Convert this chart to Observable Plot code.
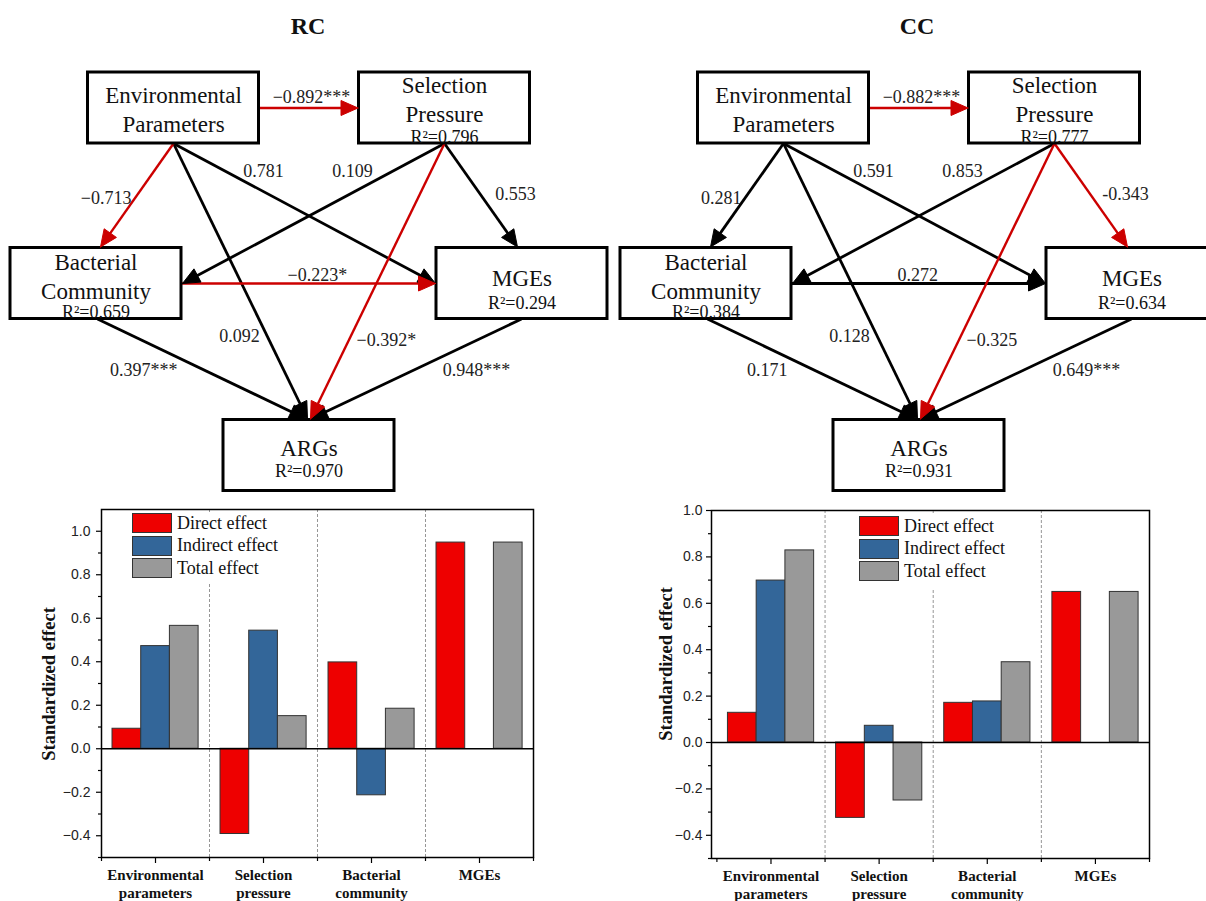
<!DOCTYPE html>
<html><head><meta charset="utf-8">
<script src="https://cdn.jsdelivr.net/npm/d3@7"></script>
<script src="https://cdn.jsdelivr.net/npm/@observablehq/plot@0.6"></script>
<style>
html,body{margin:0;padding:0;background:#fff}
body{width:1206px;height:901px;overflow:hidden;position:relative;font-family:"Liberation Serif","Times New Roman",serif}
.abs{position:absolute}
.title{font-weight:bold;font-size:24px;line-height:24px;text-align:center;width:200px;color:#111}
.legend{background:#fff;font-size:18px;color:#111;white-space:nowrap}
.legend .row{display:flex;align-items:center;height:22.5px}
.legend .sw{width:38px;height:18px;border:1.5px solid #333;margin-right:5px;box-sizing:content-box;flex:none}
.ytitle{font-weight:bold;font-size:18.5px;line-height:20px;width:200px;text-align:center;color:#111;white-space:nowrap}
</style></head>
<body>
<script>
// ---------------- data ----------------
const panels = ["RC", "CC"];
const nodeIds = ["env", "sp", "bc", "mge", "arg"];
const nodeNames = ["Environmental\nParameters", "Selection\nPressure", "Bacterial\nCommunity", "MGEs", "ARGs"];
const r2RC = [null, 0.796, 0.659, 0.294, 0.970];
const r2CC = [null, 0.777, 0.384, 0.634, 0.931];
const edgeFrom = ["env", "env", "env", "env", "sp", "sp", "sp", "bc", "bc", "mge"];
const edgeTo   = ["sp", "bc", "arg", "mge", "bc", "arg", "mge", "mge", "arg", "arg"];
const pathRC = ["−0.892***", "−0.713", "0.092", "0.781", "0.109", "−0.392*", "0.553", "−0.223*", "0.397***", "0.948***"];
const pathCC = ["−0.882***", "0.281", "0.128", "0.591", "0.853", "−0.325", "-0.343", "0.272", "0.171", "0.649***"];

const predictors = ["Environmental\nparameters", "Selection\npressure", "Bacterial\ncommunity", "MGEs"];
const effectTypes = ["Direct effect", "Indirect effect", "Total effect"];
const directRC   = [0.092, -0.392, 0.397, 0.948];
const indirectRC = [0.472, 0.543, -0.214, null];
const totalRC    = [0.565, 0.150, 0.184, 0.948];
const directCC   = [0.128, -0.325, 0.171, 0.649];
const indirectCC = [0.698, 0.072, 0.177, null];
const totalCC    = [0.828, -0.250, 0.346, 0.649];
const yTicks = [-0.4, -0.2, 0.0, 0.2, 0.4, 0.6, 0.8, 1.0];
const yMinorTicks = [-0.5, -0.3, -0.1, 0.1, 0.3, 0.5, 0.7, 0.9];
const yTitle = "Standardized effect";

// ---------------- layout (diagram, px in panel coordinates) ----------------
const DW = 606, DH = 440, DTOP = 60;
const boxW = 171, boxH = 71;
const layoutNodes = [
  {cx: 173,   cy: 107.5, ty: 107.5, ry: null},
  {cx: 444,   cy: 107.5, ty: 98,    ry: 137},
  {cx: 95.5,  cy: 283,   ty: 274.5, ry: 312},
  {cx: 521.5, cy: 283,   ty: 276,   ry: 303},
  {cx: 308.5, cy: 455,   ty: 446,   ry: 471}
];
const layoutEdges = [
  [258.5, 107.5, 357.5, 107.5],
  [173, 143, 100, 246.5],
  [173, 143, 307, 418.5],
  [173, 143, 435, 283],
  [444, 143, 182, 283],
  [444, 143, 310, 418.5],
  [444, 143, 517, 246.5],
  [181, 283, 435, 283],
  [97, 318.5, 306, 418.5],
  [521, 318.5, 310, 418.5]
];
const layoutLabels = [
  [311, 97, "middle"], [131, 198, "end"], [239, 336, "middle"], [263, 171, "middle"],
  [352, 171, "middle"], [356, 340, "start"], [515, 194, "middle"], [287, 275, "start"],
  [177, 370, "end"], [476, 370, "middle"]
];

const SERIF = "Liberation Serif, Times New Roman, serif";
const SANS = "Liberation Sans, Arial, sans-serif";
const RED_ARROW = "#cc0000";
const barColors = ["#ee0000", "#336699", "#999999"];

function diagram(r2, paths) {
  const nodes = nodeIds.map((id, i) => ({id, name: nodeNames[i], r2: r2[i], ...layoutNodes[i]}));
  const edges = edgeFrom.map((f, i) => {
    const [x1, y1, x2, y2] = layoutEdges[i];
    const label = paths[i];
    const neg = /^[−-]/.test(label);
    const dx = x2 - x1, dy = y2 - y1, len = Math.hypot(dx, dy);
    const ux = dx / len, uy = dy / len;
    return {i, from: f, to: edgeTo[i], label, neg, color: neg ? RED_ARROW : "#000",
      x1, y1, x2, y2, ux, uy,
      ex: x2 - ux * 10, ey: y2 - uy * 10,
      lx: layoutLabels[i][0], ly: layoutLabels[i][1], anchor: layoutLabels[i][2]};
  });
  const L = 17, HW = 7.5;
  const heads = [];
  edges.forEach(e => {
    const bx = e.x2 - e.ux * L, by = e.y2 - e.uy * L, nx = -e.uy, ny = e.ux;
    [[e.x2, e.y2], [bx + nx * HW, by + ny * HW], [bx - nx * HW, by - ny * HW], [e.x2, e.y2]]
      .forEach(([x, y]) => heads.push({id: e.i, x, y, color: e.color}));
  });
  const textMarks = ["middle", "start", "end"].map(a =>
    Plot.text(edges.filter(e => e.anchor === a), {x: "lx", y: "ly", text: "label", textAnchor: a,
      fontSize: 18, fontFamily: SERIF, fill: "#222"}));
  return Plot.plot({
    width: DW, height: DH, margin: 0,
    x: {domain: [0, DW], range: [0, DW], axis: null},
    y: {domain: [DTOP, DTOP + DH], range: [0, DH], axis: null},
    style: {background: "transparent", overflow: "visible"},
    marks: [
      Plot.link(edges.filter(e => !e.neg), {x1: "x1", y1: "y1", x2: "ex", y2: "ey", stroke: "#000", strokeWidth: 2.8}),
      Plot.link(edges.filter(e => e.neg), {x1: "x1", y1: "y1", x2: "ex", y2: "ey", stroke: RED_ARROW, strokeWidth: 2.4}),
      Plot.rect(nodes, {x1: d => d.cx - boxW / 2, x2: d => d.cx + boxW / 2, y1: d => d.cy - boxH / 2, y2: d => d.cy + boxH / 2,
        fill: "white", stroke: "#000", strokeWidth: 3}),
      Plot.line(heads.filter(h => h.color === "#000"), {x: "x", y: "y", z: "id", fill: "#000", stroke: "#000", strokeWidth: 1}),
      Plot.line(heads.filter(h => h.color !== "#000"), {x: "x", y: "y", z: "id", fill: RED_ARROW, stroke: RED_ARROW, strokeWidth: 1}),
      Plot.text(nodes, {x: "cx", y: "ty", text: "name", fontSize: 23, lineHeight: 1.25, fontFamily: SERIF, fill: "#111"}),
      Plot.text(nodes.filter(d => d.r2 != null), {x: "cx", y: "ry", text: d => "R²=" + d.r2.toFixed(3), fontSize: 18, fontFamily: SERIF, fill: "#111"}),
      ...textMarks
    ]
  });
}

function bars(direct, indirect, total, o) {
  const rows = [];
  const series = [direct, indirect, total];
  predictors.forEach((p, i) => {
    series.forEach((arr, j) => {
      const v = arr[i];
      if (v == null) return;
      rows.push({p, i, type: effectTypes[j], v, x1: i + 0.102 + j * 0.2657, x2: i + 0.102 + (j + 1) * 0.2657});
    });
  });
  return Plot.plot({
    width: 560, height: 401,
    marginLeft: 101, marginRight: o.mr, marginTop: o.mt, marginBottom: 401 - o.mt - 348,
    x: {domain: o.xDomain},
    y: {domain: o.yDomain},
    color: {domain: effectTypes, range: barColors},
    style: {background: "transparent", overflow: "visible", fontFamily: SANS},
    marks: [
      Plot.ruleX([1, 2, 3], {stroke: "#8a8a8a", strokeDasharray: "3,2", strokeWidth: 0.9}),
      Plot.rect(rows, {x1: "x1", x2: "x2", y1: () => 0, y2: "v", fill: "type", stroke: "#333", strokeWidth: 1}),
      Plot.ruleY([0], {stroke: "#000", strokeWidth: 1.5}),
      Plot.frame({stroke: "#000", strokeWidth: 1.5}),
      Plot.axisY({ticks: yTicks, tickSize: 5, tickPadding: o.tp, tickFormat: d3.format(".1f"), fontSize: 14, fontFamily: SANS, label: null, stroke: "#000", strokeWidth: 1.2, fill: "#222"}),
      Plot.axisY({ticks: yMinorTicks, tickSize: 3, tickFormat: () => "", label: null, stroke: "#000", strokeWidth: 1.2}),
      Plot.axisX({ticks: [0.5, 1.5, 2.5, 3.5], tickSize: 6, tickPadding: 4, tickFormat: d => predictors[Math.floor(d)],
        fontSize: 15, fontWeight: "bold", fontFamily: SERIF, lineHeight: 1.17, label: null, stroke: "#000", strokeWidth: 1.2, fill: "#111"}),
      Plot.axisX({ticks: [0, 1, 2, 3, 4], tickSize: 4, tickFormat: () => "", label: null, stroke: "#000", strokeWidth: 1.2})
    ]
  });
}

function place(el, left, top, width) {
  const d = document.createElement("div");
  d.className = "abs";
  d.style.left = left + "px"; d.style.top = top + "px";
  if (width) d.style.width = width + "px";
  d.appendChild(el);
  document.body.appendChild(d);
  return d;
}

function legend(left, top, w, h) {
  const d = document.createElement("div");
  d.className = "abs legend";
  d.style.left = left + "px"; d.style.top = top + "px"; d.style.width = w + "px"; d.style.height = h + "px";
  effectTypes.forEach((t, j) => {
    const r = document.createElement("div"); r.className = "row";
    const s = document.createElement("div"); s.className = "sw"; s.style.background = barColors[j];
    const tx = document.createElement("span"); tx.textContent = t;
    r.appendChild(s); r.appendChild(tx); d.appendChild(r);
  });
  document.body.appendChild(d);
}

function title(text, cx) {
  const d = document.createElement("div");
  d.className = "abs title";
  d.style.left = (cx - 100) + "px"; d.style.top = "14px";
  d.textContent = text;
  document.body.appendChild(d);
}

function axisTitle(text, cx, cy) {
  const d = document.createElement("div");
  d.className = "abs ytitle";
  d.style.left = (cx - 100) + "px"; d.style.top = (cy - 10) + "px";
  d.style.transform = "rotate(-90deg)";
  d.textContent = text;
  document.body.appendChild(d);
}

// ---------------- render ----------------
title(panels[0], 308);
title(panels[1], 917);
place(diagram(r2RC, pathRC), 0, DTOP, DW);
place(diagram(r2CC, pathCC), 610, DTOP, DW);
place(bars(directRC, indirectRC, totalRC, {xDomain: [0, 4], yDomain: [-0.5, 1.1], mr: 27, mt: 9, tp: 6}), 0, 500, 560);
place(bars(directCC, indirectCC, totalCC, {xDomain: [-0.05, 4.0], yDomain: [-0.5, 1.0], mr: 21, mt: 10, tp: 4}), 610, 500, 560);
legend(132, 512, 150, 71);
legend(859, 515, 158, 73);
axisTitle(yTitle, 48.5, 684);
axisTitle(yTitle, 665.5, 664);
</script>
</body></html>
